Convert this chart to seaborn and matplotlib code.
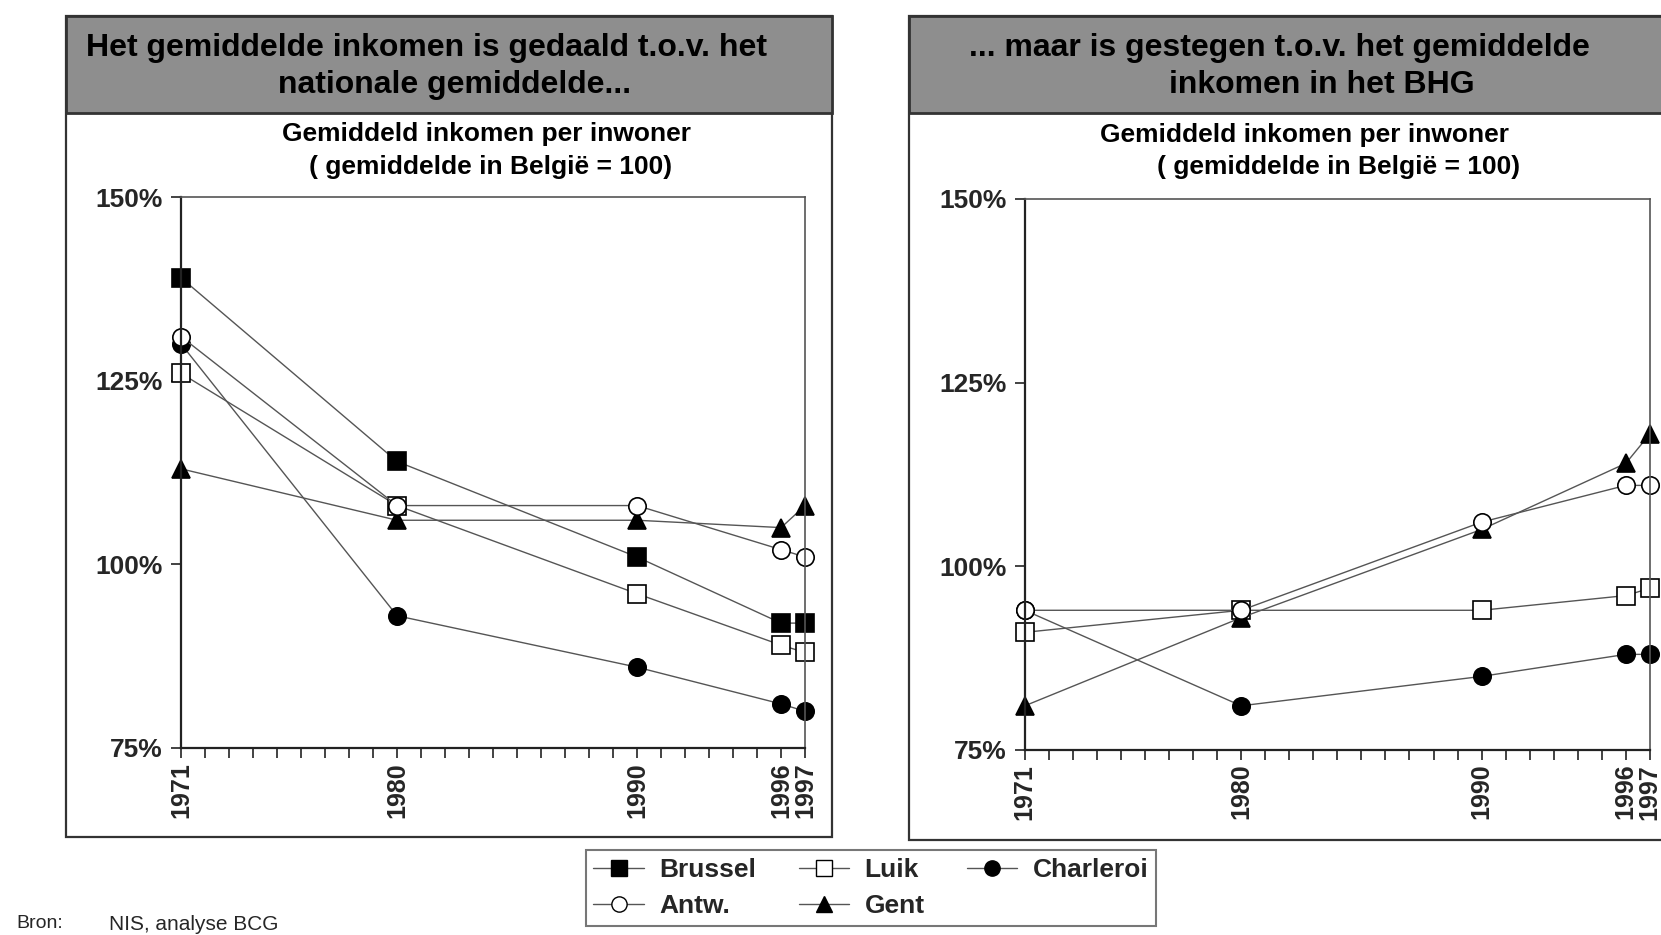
import matplotlib
matplotlib.use("Agg")
import matplotlib.pyplot as plt
from matplotlib.patches import Rectangle
from matplotlib.lines import Line2D
import seaborn as sns
import pandas as pd

sns.set_theme(style="white")
plt.rcParams['font.family'] = ['Liberation Sans', 'DejaVu Sans']

years = [1971, 1980, 1990, 1996, 1997]
year_labels = ["1971", "1980", "1990", "1996", "1997"]
y_ticks = [75, 100, 125, 150]
y_tick_labels = ["75%", "100%", "125%", "150%"]

# Left panel: index vs Belgian average
left_brussel = [139, 114, 101, 92, 92]
left_antw = [131, 108, 108, 102, 101]
left_luik = [126, 108, 96, 89, 88]
left_gent = [113, 106, 106, 105, 108]
left_charleroi = [130, 93, 86, 81, 80]

# Right panel: relative to BHG average
right_antw = [94, 94, 106, 111, 111]
right_luik = [91, 94, 94, 96, 97]
right_gent = [81, 93, 105, 114, 118]
right_charleroi = [94, 81, 85, 88, 88]

series_names = ["Brussel", "Antw.", "Luik", "Gent", "Charleroi"]
header_left = ["Het gemiddelde inkomen is gedaald t.o.v. het", "nationale gemiddelde..."]
header_right = ["... maar is gestegen t.o.v. het gemiddelde", "inkomen in het BHG"]
sub_l1 = "Gemiddeld inkomen per inwoner"
sub_l2 = "( gemiddelde in België = 100)"

styles = {
    "Brussel": dict(marker="s", mfc="black", ms=12.5),
    "Antw.": dict(marker="o", mfc="white", ms=12.5),
    "Luik": dict(marker="s", mfc="white", ms=12.5),
    "Gent": dict(marker="^", mfc="black", ms=12.5),
    "Charleroi": dict(marker="o", mfc="black", ms=12.5),
}

fig = plt.figure(figsize=(16.61, 9.35), dpi=100)

def panel(x0, w, y0, h, hy0, hh):
    fig.add_artist(Rectangle((x0, y0), w, h, transform=fig.transFigure,
                             facecolor="white", edgecolor="#333333", lw=1.6, zorder=0))
    fig.add_artist(Rectangle((x0, hy0), w, hh, transform=fig.transFigure,
                             facecolor="#8e8e8e", edgecolor="#333333", lw=2.0, zorder=0.5))

panel(0.0397, 0.4612, 0.1048, 0.878, 0.879, 0.1037)
panel(0.5473, 0.47, 0.1016, 0.881, 0.879, 0.1037)

ax1 = fig.add_axes([0.109, 0.2, 0.3757, 0.5893])
ax2 = fig.add_axes([0.617, 0.198, 0.3763, 0.5893])

def draw(ax, data):
    for name, vals in data:
        st = styles[name]
        df = pd.DataFrame({"jaar": years, "waarde": vals})
        sns.lineplot(data=df, x="jaar", y="waarde", ax=ax, color="#555555", lw=1.0,
                     marker=st["marker"], markersize=st["ms"], markerfacecolor=st["mfc"],
                     markeredgecolor="black", markeredgewidth=1.2, clip_on=False, legend=False)
    ax.set_xlim(1971, 1997)
    ax.set_ylim(75, 150)
    all_years = list(range(1971, 1998))
    ax.set_xticks(all_years)
    ax.set_xticklabels([str(y) if y in years else "" for y in all_years],
                       rotation=90, fontsize=18, fontweight="bold")
    ax.set_yticks(y_ticks)
    ax.set_yticklabels(y_tick_labels, fontsize=19, fontweight="bold")
    ax.tick_params(axis="both", direction="out", length=7, width=1.2, color="#222222",
                   bottom=True, left=True, pad=3)
    ax.tick_params(axis="y", pad=6)
    ax.set_xlabel("")
    ax.set_ylabel("")
    for s in ["left", "bottom"]:
        ax.spines[s].set_color("#222222")
        ax.spines[s].set_linewidth(1.6)
    for s in ["top", "right"]:
        ax.spines[s].set_color("#555555")
        ax.spines[s].set_linewidth(1.2)
    ax.grid(False)
    ax.set_facecolor("white")

draw(ax1, [("Brussel", left_brussel), ("Luik", left_luik), ("Charleroi", left_charleroi),
           ("Gent", left_gent), ("Antw.", left_antw)])
draw(ax2, [("Luik", right_luik), ("Charleroi", right_charleroi),
           ("Gent", right_gent), ("Antw.", right_antw)])

def ftxt(x, y, s, **kw):
    fig.text(x / 1661, 1 - y / 935, s, ha="center", va="center", color="black", **kw)

ftxt(427, 48, header_left[0], fontsize=23, fontweight="bold")
ftxt(455, 85, header_left[1], fontsize=23, fontweight="bold")
ftxt(1279, 48, header_right[0], fontsize=23, fontweight="bold")
ftxt(1322, 85, header_right[1], fontsize=23, fontweight="bold")

ftxt(487, 134, sub_l1, fontsize=19, fontweight="bold")
ftxt(491, 167, sub_l2, fontsize=19, fontweight="bold")
ftxt(1305, 135, sub_l1, fontsize=19, fontweight="bold")
ftxt(1339, 167, sub_l2, fontsize=19, fontweight="bold")

fig.text(16 / 1661, 1 - 924 / 935, "Bron:", ha="left", va="center", fontsize=14)
fig.text(109 / 1661, 1 - 924 / 935, "NIS, analyse BCG", ha="left", va="center", fontsize=15)

handles = []
for name in series_names:
    st = styles[name]
    handles.append(Line2D([0], [0], color="#555555", lw=1.0, marker=st["marker"],
                          markersize=11, markerfacecolor=st["mfc"], markeredgecolor="black"))
leg = fig.legend(handles, series_names, ncol=3, loc="center",
                 bbox_to_anchor=(871 / 1661, 1 - 888 / 935),
                 prop={"size": 19, "weight": "bold"}, frameon=True, fancybox=False,
                 handlelength=1.9, handletextpad=0.6, columnspacing=1.6, labelspacing=0.45,
                 borderpad=0.3, edgecolor="#555555")
leg.get_frame().set_linewidth(1.5)

fig.savefig("out.png", dpi=100)
